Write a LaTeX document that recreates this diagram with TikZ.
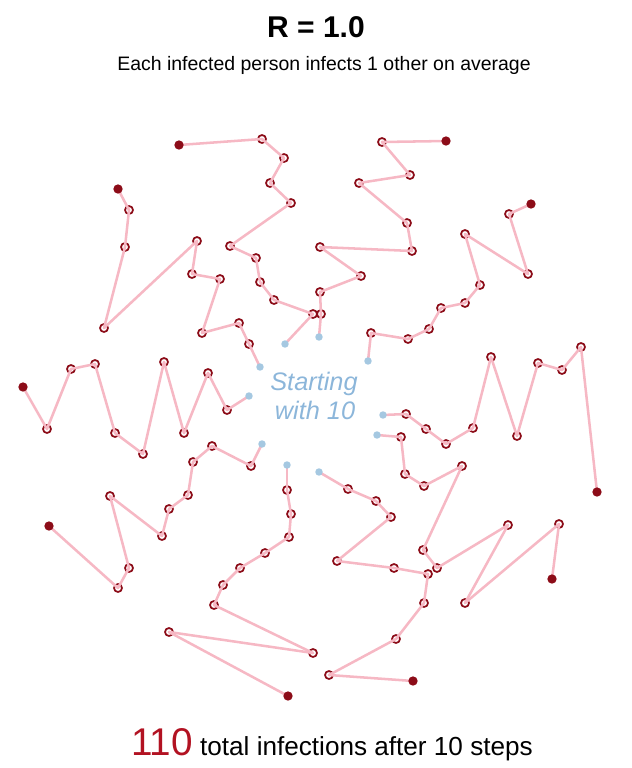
\documentclass[tikz,border=0pt]{standalone}
\usepackage{fontspec}
\setmainfont{Liberation Sans}
\usepackage{tikz}
\usetikzlibrary{positioning}
\definecolor{linkpink}{RGB}{246,184,196}
\definecolor{casered}{RGB}{140,12,24}
\definecolor{seedblue}{RGB}{165,200,225}
\definecolor{labelblue}{RGB}{140,182,218}
\definecolor{totalred}{RGB}{178,18,34}
\tikzset{
	link/.style={line width=1.9pt, color=linkpink, line cap=round}
}
\tikzset{
	hit/.style={circle, draw=casered, line width=1.3pt, fill=white, inner sep=0pt, minimum size=6pt},
	seed/.style={circle, fill=seedblue, inner sep=0pt, minimum size=5.6pt},
	lastcase/.style={circle, fill=casered, inner sep=0pt, minimum size=7pt}
}
\tikzset{
	titletext/.style={anchor=base, font=\fontsize{22.5}{27}\selectfont\bfseries},
	subtext/.style={anchor=base, font=\fontsize{14.6}{17}\selectfont},
	seedtext/.style={anchor=base, font=\fontsize{19}{22}\selectfont\itshape, text=labelblue}
}
% one chain: seed, nine cases, last case
\newcommand{\outbreak}[2]{%
  \foreach \px/\py [count=\k from 0] in {#2} {\coordinate (#1\k) at (\px,\py);}
  \foreach \k in {1,...,9} {\node[hit] at (#1\k) {};}
  \foreach \k [remember=\k as \j (initially 0)] in {1,...,10} {\draw[link] (#1\j) -- (#1\k);}
  \node[seed] at (#10) {};
  \node[lastcase] at (#110) {};
}

\begin{document}
\begin{tikzpicture}[x=0.75pt, y=-0.75pt]
      \useasboundingbox (0,0) rectangle (632,768);
      \node[titletext] (title) at (316,37) {R = 1.0};
      \node[subtext] (subtitle) at (324,70) {Each infected person infects 1 other on average};

      \outbreak{a}{285/344,313/314,274/300,260/282,256/258,230/246,291/203,270/183,284/158,262/139,179/145}
      \outbreak{b}{319/337,321/314,320/292,361/276,320/247,412/251,407/223,359/183,410/175,382/142,446/141}
      \outbreak{c}{368/361,371/333,408/339,429/329,441/308,465/303,480/285,465/234,528/274,509/214,531/204}
      \outbreak{d}{383/415,406/414,426/429,446/444,473/428,491/357,517/436,538/363,562/370,581/347,597/492}
      \outbreak{e}{377/435,401/437,405/474,424/486,462/466,423/550,437/568,508/525,465/603,559/524,552/579}
      \outbreak{f}{319/472,348/489,376/501,391/517,337/561,394/568,428/574,424/603,396/639,329/675,413/681}
      \outbreak{g}{287/465,287/490,291/514,289/537,265/553,240/568,223/585,214/605,313/653,169/632,288/696}
      \outbreak{h}{262/444,251/466,212/446,193/462,188/495,169/509,162/536,110/496,129/568,118/588,49/526}
      \outbreak{i}{249/396,227/410,208/373,184/433,164/362,143/454,115/433,95/364,71/369,47/429,23/387}
      \outbreak{j}{260/367,249/344,239/323,202/333,220/279,192/274,197/241,104/328,125/247,129/210,118/189}

      \node[seedtext] (start) at (314,390) {Starting};
      \node[seedtext] (startnum) at (315,419) {with 10};

      \node[anchor=base, font=\fontsize{19.6}{23}\selectfont] (total) at (332,755)
        {{\color{totalred}\fontsize{29}{34}\selectfont 110} total infections after 10 steps};
    \end{tikzpicture}
\end{document}
